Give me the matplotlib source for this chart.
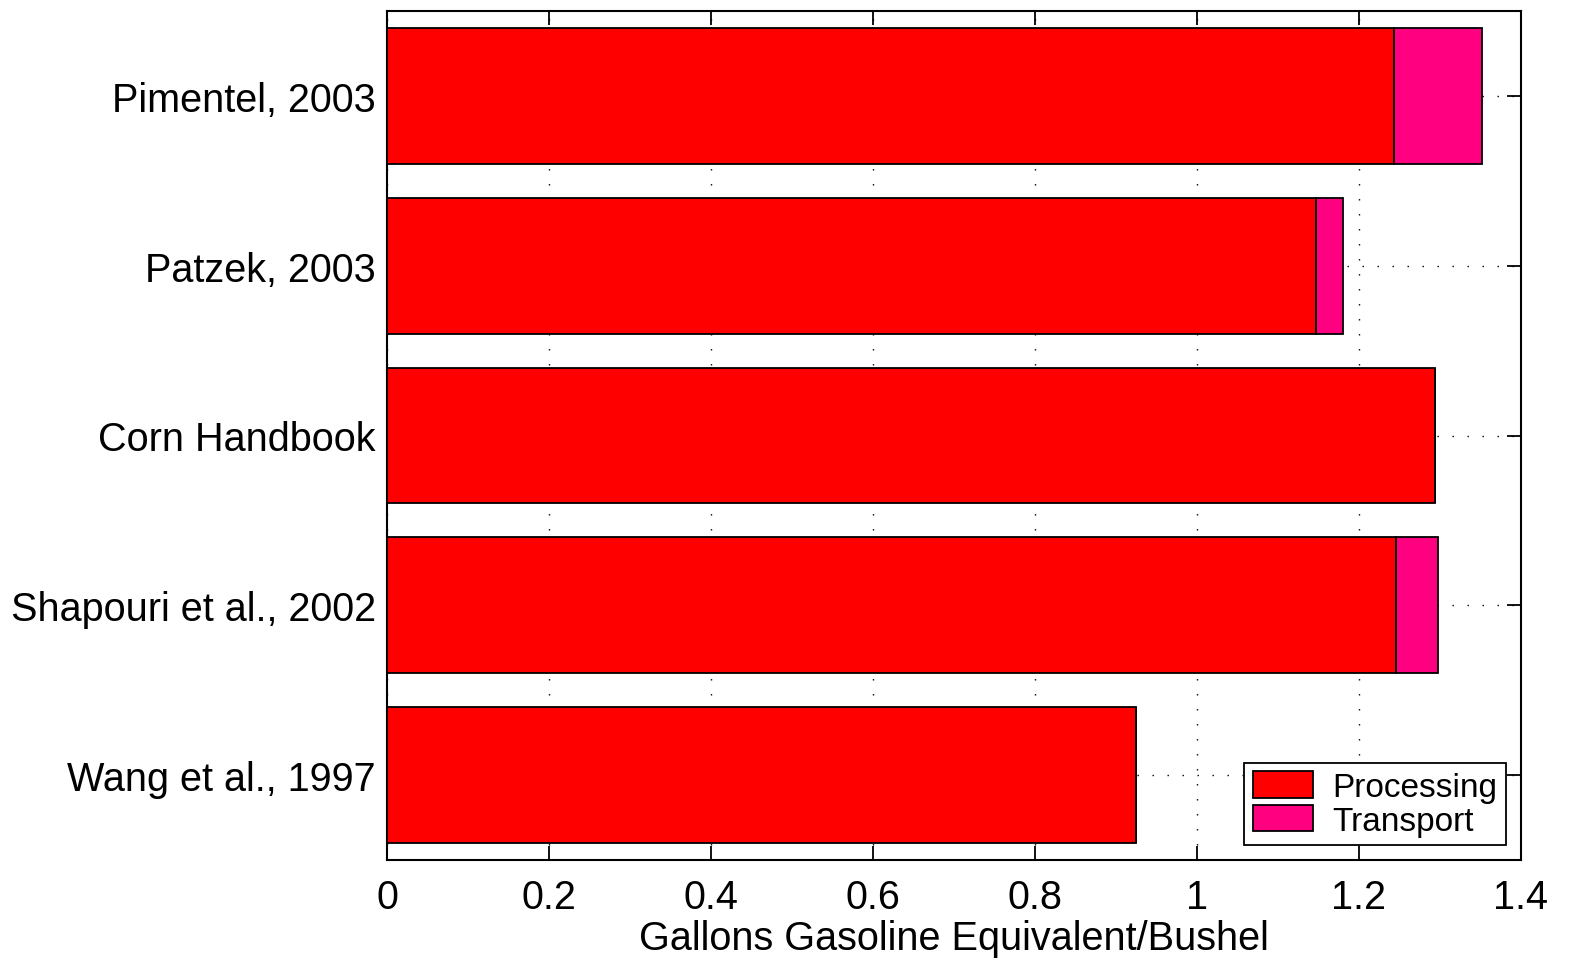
import matplotlib
matplotlib.use("Agg")
import matplotlib.pyplot as plt
import numpy as np

plt.rcParams['font.family'] = ['Liberation Sans', 'DejaVu Sans']

categories = ["Wang et al., 1997", "Shapouri et al., 2002", "Corn Handbook",
              "Patzek, 2003", "Pimentel, 2003"]
processing = [0.925, 1.246, 1.294, 1.147, 1.243]
transport = [0.0, 0.052, 0.0, 0.033, 0.109]
xticks = [0, 0.2, 0.4, 0.6, 0.8, 1, 1.2, 1.4]
xticklabels = ["0", "0.2", "0.4", "0.6", "0.8", "1", "1.2", "1.4"]

fig = plt.figure(figsize=(15.69, 9.62), dpi=100)
ax = fig.add_axes([387/1569, 1-861/962, (1521-387)/1569, (861-12)/962])

y = np.arange(1, len(categories)+1)
ax.set_axisbelow(True)
ax.grid(True, which='major', linestyle=(0, (1, 9.8)), color='black', linewidth=1.0)
ax.barh(y, processing, height=0.8, color='#FF0000', edgecolor='black', linewidth=1.3,
        label='Processing', zorder=3)
ax.barh(y, transport, left=processing, height=0.8, color='#FF0080', edgecolor='black',
        linewidth=1.3, label='Transport', zorder=3)

ax.set_xlim(0, 1.4)
ax.set_ylim(0.5, 5.5)
ax.set_xticks(xticks)
ax.set_xticklabels(xticklabels)
ax.set_yticks(y)
ax.set_yticklabels(categories)
ax.tick_params(axis='both', direction='in', length=10, width=1.3, labelsize=28.5,
               top=True, right=True)
ax.tick_params(axis='x', pad=13)
ax.tick_params(axis='y', pad=8)
for s in ax.spines.values():
    s.set_linewidth(1.5)
ax.set_xlabel("Gallons Gasoline Equivalent/Bushel", fontsize=28.5, labelpad=2)

leg = ax.legend(loc='lower right', fontsize=24, frameon=True, fancybox=False,
                edgecolor='black', framealpha=1, borderpad=0.25, handlelength=1.8,
                handleheight=0.85, labelspacing=0.05, handletextpad=0.6,
                borderaxespad=0.45)
leg.get_frame().set_linewidth(1.3)
leg.set_zorder(5)

fig.savefig("out.png", dpi=100)
